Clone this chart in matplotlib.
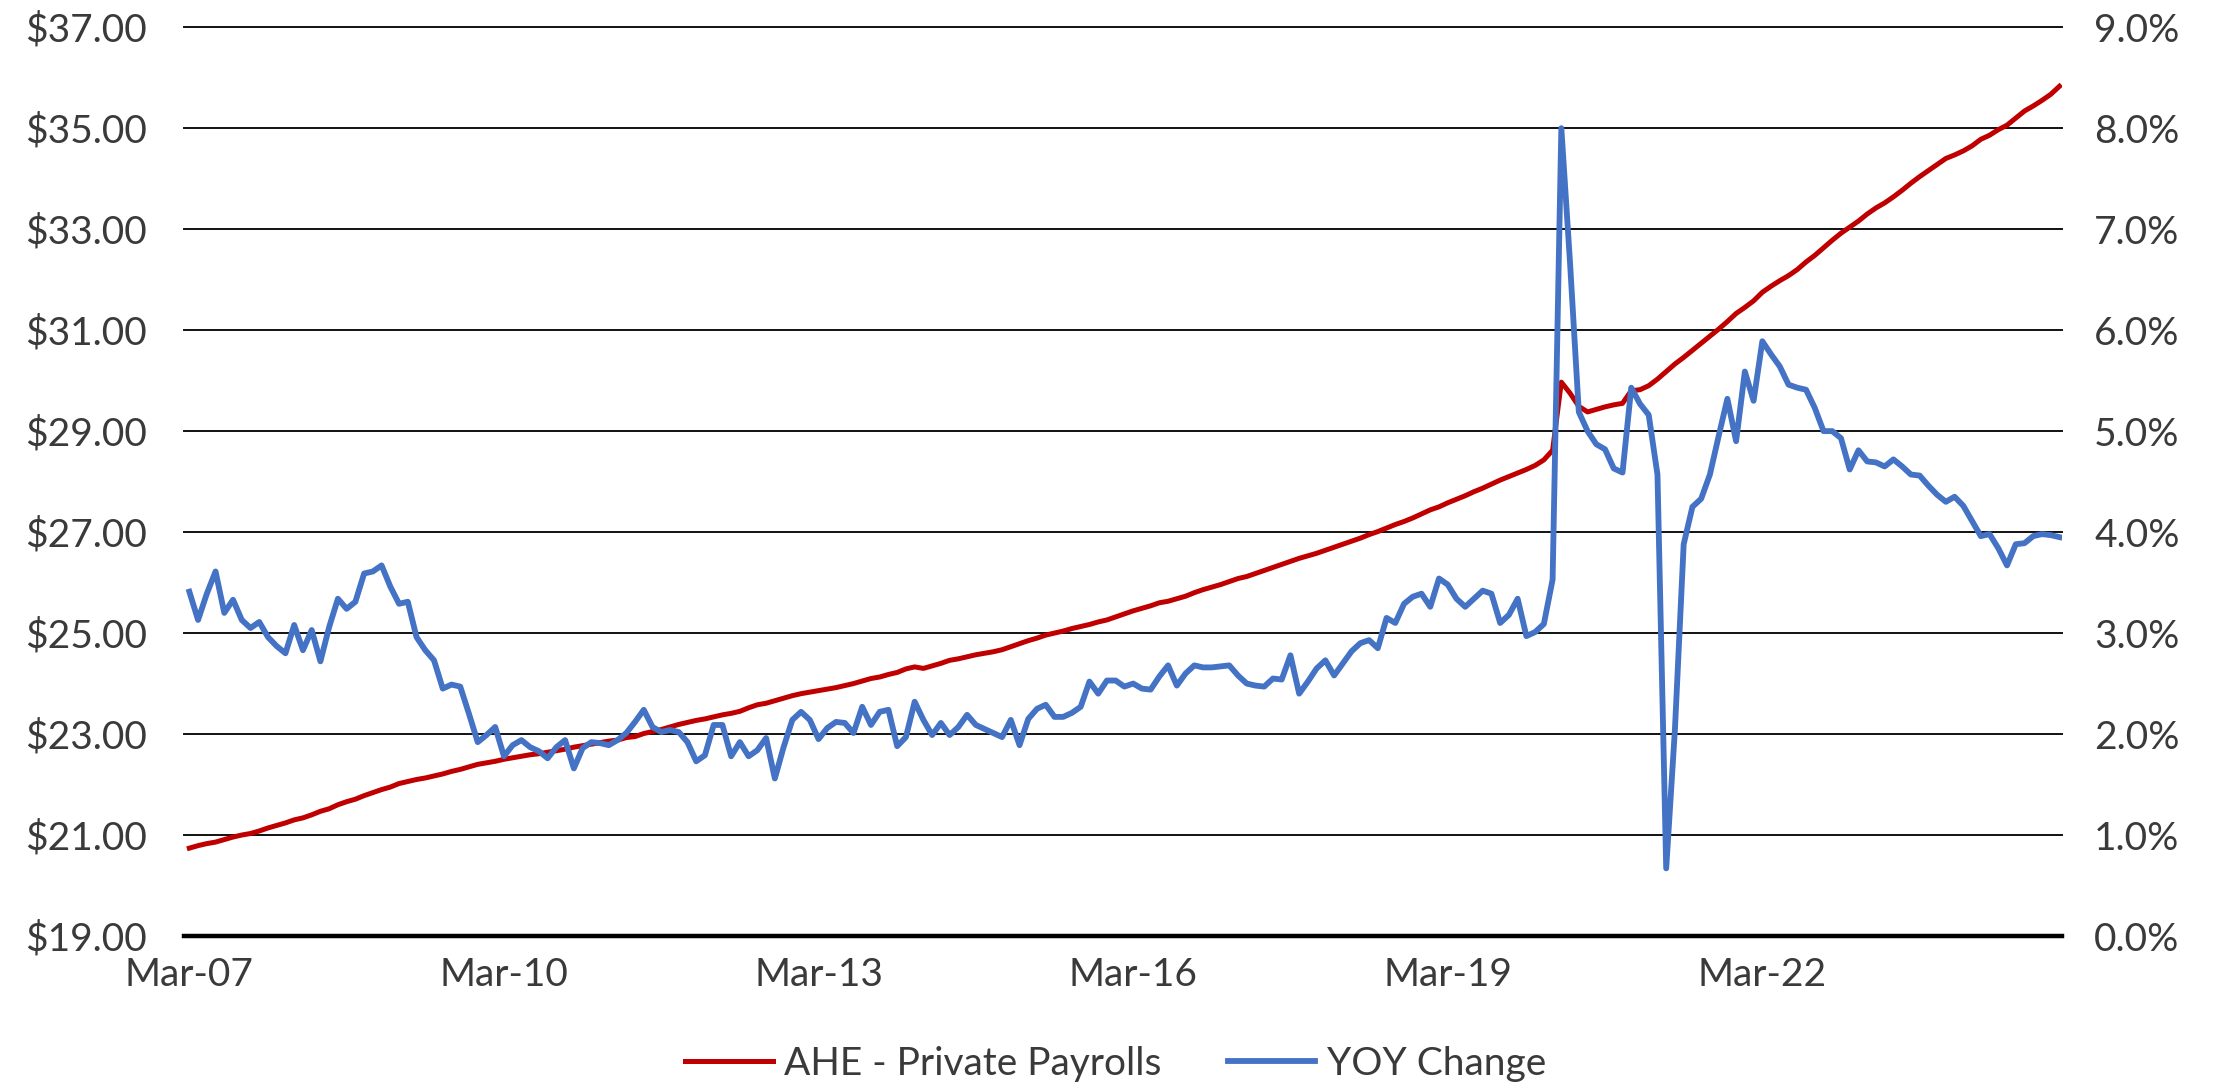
import matplotlib
matplotlib.use("Agg")
import matplotlib.pyplot as plt
from matplotlib.ticker import FuncFormatter

plt.rcParams["font.family"] = ["Lato", "DejaVu Sans"]

# Monthly series, Mar-07 through Jan-25 (one value per month)
ahe_private = [
    20.74, 20.79, 20.83, 20.86, 20.91, 20.96, 21.00, 21.03, 21.08, 21.14,
    21.19, 21.24, 21.30, 21.34, 21.40, 21.47, 21.52, 21.60, 21.66, 21.71, 21.78, 21.84,
    21.90, 21.95, 22.02, 22.06, 22.10, 22.13, 22.17, 22.21, 22.26, 22.30, 22.35, 22.40,
    22.43, 22.46, 22.50, 22.53, 22.56, 22.59, 22.61, 22.64, 22.67, 22.70, 22.74, 22.77,
    22.80, 22.83, 22.86, 22.88, 22.93, 22.95, 23.01, 23.05, 23.09, 23.14, 23.19, 23.23,
    23.27, 23.30, 23.34, 23.38, 23.41, 23.45, 23.52, 23.58, 23.61, 23.66, 23.71, 23.76,
    23.80, 23.83, 23.86, 23.89, 23.92, 23.96, 24.00, 24.05, 24.10, 24.13, 24.18, 24.22,
    24.29, 24.33, 24.30, 24.35, 24.40, 24.46, 24.49, 24.53, 24.57, 24.60, 24.63, 24.67,
    24.73, 24.79, 24.85, 24.90, 24.96, 25.00, 25.04, 25.09, 25.13, 25.17, 25.22, 25.26,
    25.32, 25.38, 25.44, 25.49, 25.54, 25.60, 25.63, 25.68, 25.73, 25.80, 25.86, 25.91,
    25.96, 26.02, 26.08, 26.12, 26.18, 26.24, 26.30, 26.36, 26.42, 26.48, 26.53, 26.58,
    26.64, 26.70, 26.76, 26.82, 26.88, 26.95, 27.01, 27.08, 27.15, 27.21, 27.28, 27.36,
    27.44, 27.50, 27.58, 27.65, 27.72, 27.80, 27.87, 27.95, 28.03, 28.10, 28.17, 28.24,
    28.32, 28.43, 28.62, 29.97, 29.75, 29.49, 29.38, 29.43, 29.48, 29.52, 29.55, 29.80,
    29.82, 29.90, 30.03, 30.18, 30.33, 30.46, 30.60, 30.74, 30.88, 31.02, 31.17, 31.33,
    31.45, 31.58, 31.75, 31.87, 31.98, 32.08, 32.20, 32.35, 32.48, 32.63, 32.78, 32.92,
    33.04, 33.16, 33.30, 33.42, 33.52, 33.64, 33.77, 33.91, 34.04, 34.16, 34.28, 34.40,
    34.47, 34.55, 34.65, 34.78, 34.86, 34.97, 35.06, 35.20, 35.34, 35.44, 35.55, 35.67,
    35.83,
]

yoy_change = [
    3.41, 3.13, 3.39, 3.61, 3.20, 3.33, 3.13, 3.05, 3.11, 2.96,
    2.87, 2.80, 3.08, 2.83, 3.03, 2.72, 3.06, 3.34, 3.24, 3.31, 3.59, 3.61,
    3.67, 3.46, 3.29, 3.31, 2.96, 2.83, 2.73, 2.45, 2.49, 2.47, 2.20, 1.92,
    1.99, 2.07, 1.78, 1.89, 1.94, 1.87, 1.83, 1.76, 1.87, 1.94, 1.66, 1.86,
    1.92, 1.91, 1.89, 1.94, 2.01, 2.12, 2.24, 2.07, 2.02, 2.04, 2.02, 1.92,
    1.73, 1.79, 2.09, 2.09, 1.78, 1.92, 1.78, 1.84, 1.96, 1.56, 1.87, 2.14,
    2.22, 2.14, 1.95, 2.06, 2.12, 2.11, 2.01, 2.27, 2.09, 2.22, 2.24, 1.88,
    1.97, 2.32, 2.14, 1.99, 2.11, 1.99, 2.07, 2.19, 2.09, 2.05, 2.01, 1.97,
    2.14, 1.89, 2.15, 2.25, 2.29, 2.17, 2.17, 2.21, 2.27, 2.52, 2.40, 2.53,
    2.53, 2.47, 2.50, 2.45, 2.44, 2.57, 2.68, 2.48, 2.60, 2.68, 2.66, 2.66,
    2.67, 2.68, 2.58, 2.50, 2.48, 2.47, 2.55, 2.54, 2.78, 2.40, 2.52, 2.65,
    2.73, 2.58, 2.70, 2.82, 2.90, 2.93, 2.85, 3.15, 3.10, 3.29, 3.36, 3.39,
    3.26, 3.54, 3.48, 3.34, 3.26, 3.34, 3.42, 3.39, 3.10, 3.18, 3.34, 2.97,
    3.01, 3.09, 3.53, 8.00, 6.66, 5.19, 5.00, 4.87, 4.82, 4.63, 4.59, 5.43,
    5.27, 5.16, 4.57, 0.67, 2.05, 3.88, 4.25, 4.33, 4.57, 4.95, 5.32, 4.90,
    5.59, 5.30, 5.89, 5.76, 5.64, 5.46, 5.43, 5.41, 5.23, 5.00, 5.00, 4.93,
    4.62, 4.81, 4.70, 4.69, 4.65, 4.72, 4.65, 4.57, 4.56, 4.46, 4.37, 4.30,
    4.35, 4.26, 4.11, 3.96, 3.98, 3.84, 3.67, 3.88, 3.89, 3.96, 3.98, 3.97,
    3.95,
]

tick_months = [0, 36, 72, 108, 144, 180]
tick_labels = ["Mar-07", "Mar-10", "Mar-13", "Mar-16", "Mar-19", "Mar-22"]
dollar_ticks = [19, 21, 23, 25, 27, 29, 31, 33, 35, 37]
pct_ticks = [0, 1, 2, 3, 4, 5, 6, 7, 8, 9]

RED = "#C00000"
BLUE = "#4472C4"
TEXT = "#3a3a3a"
FS = 28

months = list(range(len(ahe_private)))

fig = plt.figure(figsize=(22.18, 10.88), dpi=100)
ax = fig.add_axes([0.083, 0.1397, 0.8467, 0.8353])
ax2 = ax.twinx()

ax.plot(months, ahe_private, color=RED, lw=3.6, solid_joinstyle="round",
        label="AHE - Private Payrolls")
ax2.plot(months, yoy_change, color=BLUE, lw=4.2, solid_joinstyle="round",
         label="YOY Change")

ax.set_xlim(-0.6, len(months) - 0.7)
ax.set_ylim(19, 37)
ax2.set_ylim(0, 9)

ax.set_yticks(dollar_ticks)
ax.yaxis.set_major_formatter(FuncFormatter(lambda v, _: f"${v:.2f}"))
ax2.set_yticks(pct_ticks)
ax2.yaxis.set_major_formatter(FuncFormatter(lambda v, _: f"{v:.1f}%"))
ax.set_xticks(tick_months)
ax.set_xticklabels(tick_labels)

# horizontal gridlines, kept unclipped so the top one draws at full width
ax.grid(axis="y", color="#111111", lw=1.4)
for gl in ax.get_ygridlines():
    gl.set_clip_on(False)
ax.set_axisbelow(True)
for a in (ax, ax2):
    for side in ("top", "left", "right", "bottom"):
        a.spines[side].set_visible(False)
ax.axhline(19, color="black", lw=3.2, zorder=1, clip_on=False)

ax.tick_params(axis="y", length=0, pad=27, labelsize=FS, labelcolor=TEXT)
ax2.tick_params(axis="y", length=0, pad=23, labelsize=FS, labelcolor=TEXT)
ax.tick_params(axis="x", length=0, pad=15, labelsize=FS, labelcolor=TEXT)

h1, l1 = ax.get_legend_handles_labels()
h2, l2 = ax2.get_legend_handles_labels()
fig.legend(h1 + h2, l1 + l2, loc="center", bbox_to_anchor=(0.503, 0.022),
           ncol=2, frameon=False, fontsize=FS, handlelength=2.25,
           columnspacing=1.7, handletextpad=0.3, labelcolor=TEXT)

fig.savefig("out.png", dpi=100)
